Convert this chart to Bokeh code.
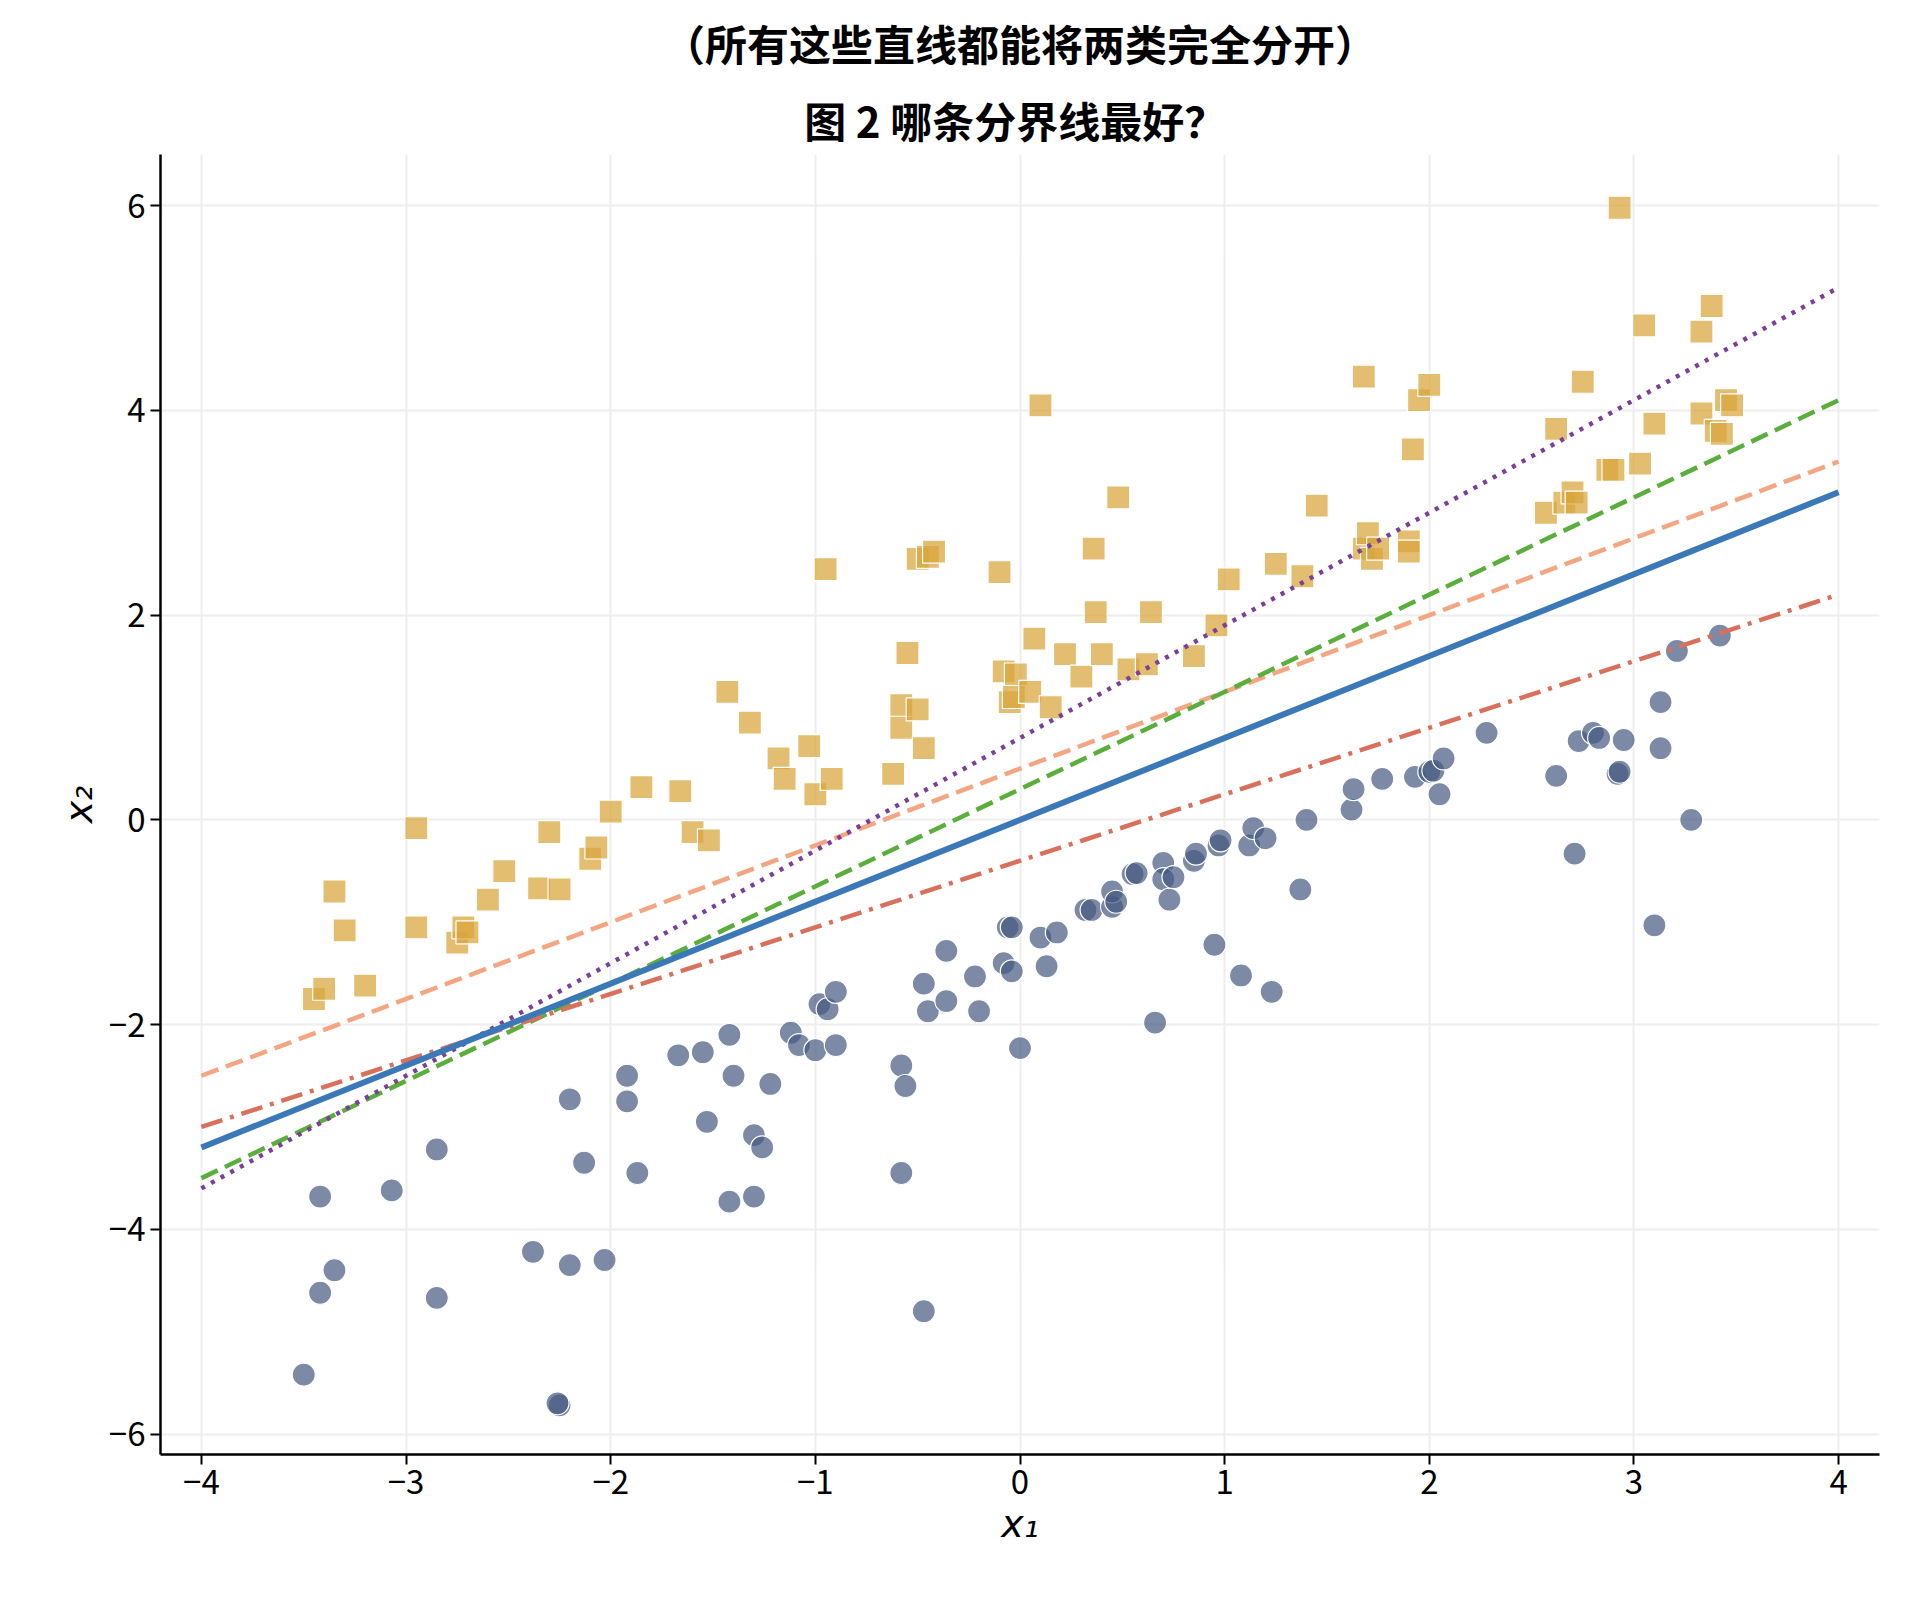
import numpy as np
from bokeh.plotting import figure
from bokeh.models import Range1d, FixedTicker, Title
from bokeh.embed import file_html
from bokeh.resources import INLINE

sq_x = [-3.45,-3.4,-3.35,-3.3,-3.2,-2.95,-2.95,-2.75,-2.72,-2.7,-2.6,-2.52,-2.35,-2.3,-2.25,-2.1,-2.07,-2.0,-1.85,-1.66,-1.6,-1.52,-1.43,-1.32,-1.18,-1.15,-1.03,-1.0,-0.95,-0.92,-0.62,-0.58,-0.58,-0.55,-0.5,-0.5,-0.47,-0.45,-0.42,-0.1,-0.08,-0.05,-0.02,-0.03,0.05,0.07,0.1,0.15,0.22,0.3,0.36,0.37,0.4,0.48,0.53,0.62,0.64,0.85,0.96,1.02,1.25,1.38,1.45,1.68,1.68,1.7,1.72,1.75,1.9,1.9,1.92,1.95,2.0,2.57,2.62,2.66,2.7,2.72,2.75,2.87,2.9,2.93,3.03,3.05,3.1,3.33,3.33,3.38,3.4,3.43,3.45,3.48]
sq_y = [-1.75,-1.65,-0.7,-1.08,-1.62,-0.08,-1.05,-1.2,-1.05,-1.1,-0.78,-0.5,-0.67,-0.12,-0.68,-0.38,-0.27,0.08,0.32,0.28,-0.12,-0.2,1.25,0.95,0.6,0.4,0.72,0.25,2.45,0.4,0.45,1.12,0.9,1.63,1.08,2.55,0.7,2.57,2.62,2.42,1.45,1.15,1.42,1.2,1.25,1.77,4.05,1.1,1.62,1.4,2.65,2.03,1.62,3.15,1.47,1.52,2.03,1.6,1.9,2.35,2.5,2.38,3.07,4.33,2.65,2.8,2.55,2.65,2.72,2.62,3.62,4.1,4.25,3.0,3.82,3.1,3.2,3.1,4.28,3.42,3.42,5.98,3.48,4.83,3.87,4.77,3.97,5.02,3.8,3.77,4.1,4.05]
ci_x = [-3.5,-3.42,-3.42,-3.35,-3.07,-2.85,-2.85,-2.38,-2.25,-2.26,-2.2,-2.2,-2.13,-2.03,-1.92,-1.92,-1.87,-1.67,-1.55,-1.53,-1.42,-1.42,-1.4,-1.3,-1.3,-1.26,-1.22,-1.12,-1.08,-1.0,-0.98,-0.94,-0.9,-0.9,-0.58,-0.58,-0.56,-0.47,-0.47,-0.45,-0.36,-0.36,-0.22,-0.2,-0.08,-0.06,-0.04,-0.04,0.0,0.1,0.13,0.18,0.32,0.35,0.45,0.45,0.47,0.55,0.57,0.66,0.7,0.7,0.73,0.75,0.85,0.86,0.95,0.97,0.98,1.08,1.12,1.14,1.2,1.23,1.37,1.4,1.62,1.63,1.77,1.93,2.0,2.02,2.05,2.07,2.28,2.62,2.71,2.73,2.8,2.83,2.92,2.93,2.95,3.1,3.13,3.13,3.21,3.28,3.42]
ci_y = [-5.42,-3.68,-4.62,-4.4,-3.62,-3.22,-4.67,-4.22,-5.72,-5.7,-2.73,-4.35,-3.35,-4.3,-2.5,-2.75,-3.45,-2.3,-2.27,-2.95,-2.1,-3.73,-2.5,-3.08,-3.68,-3.2,-2.58,-2.08,-2.2,-2.25,-1.8,-1.85,-2.2,-1.68,-2.4,-3.45,-2.6,-1.6,-4.8,-1.87,-1.77,-1.28,-1.53,-1.87,-1.4,-1.05,-1.05,-1.48,-2.23,-1.15,-1.43,-1.1,-0.88,-0.88,-0.85,-0.7,-0.8,-0.53,-0.52,-1.98,-0.42,-0.58,-0.78,-0.56,-0.4,-0.33,-1.22,-0.25,-0.2,-1.52,-0.25,-0.08,-0.18,-1.68,-0.68,0.0,0.1,0.3,0.4,0.42,0.47,0.48,0.25,0.6,0.85,0.43,-0.33,0.77,0.85,0.8,0.45,0.47,0.78,-1.03,1.15,0.7,1.65,0.0,1.8]

line_x = [-4, 4]
line_salmon = [-2.5, 3.5]
line_green = [-3.5, 4.1]
line_purple = [-3.6, 5.2]
line_red = [-3.0, 2.2]
line_blue = [-3.2, 3.2]

title_1 = "图 2  哪条分界线最好？"
title_2 = "（所有这些直线都能将两类完全分开）"

p = figure(width=1892, height=1594, output_backend="svg", toolbar_location=None,
           x_range=Range1d(-4.2, 4.2), y_range=Range1d(-6.2, 6.5),
           min_border_left=160, min_border_right=13, min_border_top=20, min_border_bottom=140,
           title=title_2)
for t in [p.title]:
    t.align = "center"
    t.text_font = "Noto Sans CJK SC"
    t.text_font_size = "42px"
    t.text_font_style = "bold"
    t.text_color = "black"
    t.standoff = 18
t1 = Title(text=title_1, align="center", text_font="Noto Sans CJK SC", text_font_size="42px",
           text_font_style="bold", text_color="black")
p.add_layout(t1, "above")
p.outline_line_color = None

for ax in (p.xaxis, p.yaxis):
    ax.axis_line_width = 2.5
    ax.axis_line_color = "black"
    ax.major_tick_line_width = 2
    ax.major_tick_out = 10
    ax.major_tick_in = 0
    ax.minor_tick_line_color = None
    ax.major_label_text_font = "Noto Sans CJK SC"
    ax.major_label_text_font_size = "33px"
    ax.major_label_text_color = "black"
    ax.axis_label_text_font = "DejaVu Sans"
    ax.axis_label_text_font_style = "italic"
    ax.axis_label_text_font_size = "38px"
    ax.axis_label_text_color = "black"
p.xaxis.ticker = FixedTicker(ticks=list(range(-4, 5)))
p.yaxis.ticker = FixedTicker(ticks=[-6, -4, -2, 0, 2, 4, 6])
p.xaxis.major_label_overrides = {i: ("\u2212%d" % -i if i < 0 else str(i)) for i in range(-4, 5)}
p.yaxis.major_label_overrides = {i: ("\u2212%d" % -i if i < 0 else str(i)) for i in [-6, -4, -2, 0, 2, 4, 6]}
p.xaxis.axis_label = "x\u2081"
p.yaxis.axis_label = "x\u2082"
p.grid.grid_line_color = "#eeeeee"
p.grid.grid_line_width = 2

p.scatter(sq_x, sq_y, marker="square", size=23, fill_color="#D8A53A", fill_alpha=0.72,
          line_color="white", line_width=1.2)
p.scatter(ci_x, ci_y, marker="circle", size=23, fill_color="#44587F", fill_alpha=0.7,
          line_color="white", line_width=1.2)

p.line(line_x, line_salmon, line_color="#F4A582", line_width=4.5, line_dash="18 8")
p.line(line_x, line_green, line_color="#5AAE3C", line_width=4.5, line_dash="18 8")
p.line(line_x, line_purple, line_color="#7B3F9A", line_width=4.5, line_dash="4 7")
p.line(line_x, line_red, line_color="#D9705C", line_width=4.5, line_dash="22 8 4 8")
p.line(line_x, line_blue, line_color="#3B78B8", line_width=6)

open("out.html", "w").write(file_html(p, INLINE))
